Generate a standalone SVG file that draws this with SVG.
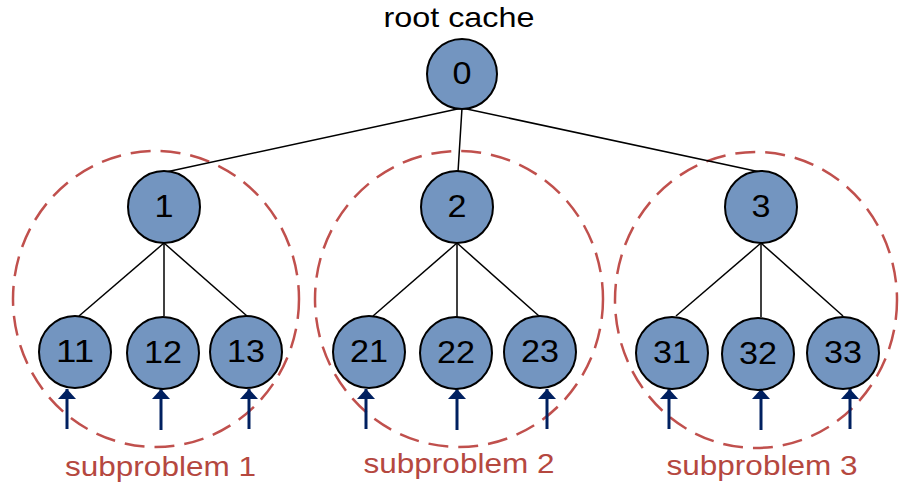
<svg xmlns="http://www.w3.org/2000/svg" width="899" height="486" viewBox="0 0 899 486">
  <style>
    .node circle { fill: #7395C0; stroke: #000; stroke-width: 2; }
    .node text { font-family: "Liberation Sans", Arial, sans-serif; font-size: 31px; fill: #000; text-anchor: middle; }
    .edge { stroke: #000; stroke-width: 1.5; fill: none; }
    .group { fill: none; stroke: #C0504D; stroke-width: 2.5; stroke-dasharray: 20 10; }
    .glabel { font-family: "Liberation Sans", Arial, sans-serif; font-size: 27.5px; fill: #B5483F; text-anchor: middle; }
    .title { font-family: "Liberation Sans", Arial, sans-serif; font-size: 28.5px; fill: #000; text-anchor: middle; }
    .req { stroke: #002060; stroke-width: 3; fill: none; }
  </style>
  <defs>
    <marker id="head" viewBox="0 0 10 18" refX="10" refY="9" markerWidth="10" markerHeight="18" markerUnits="userSpaceOnUse" orient="auto">
      <path d="M0,0 L10,9 L0,18 Z" fill="#002060"/>
    </marker>
  </defs>

  <text class="title" x="459" y="27" textLength="151" lengthAdjust="spacingAndGlyphs">root cache</text>

  <!-- subproblem boundaries -->
  <g id="subproblems">
    <ellipse class="group" cx="156" cy="299" rx="143" ry="148"/>
    <ellipse class="group" cx="459" cy="299" rx="144" ry="148"/>
    <ellipse class="group" cx="756" cy="300" rx="141" ry="148"/>
    <text class="glabel" x="160.5" y="476" textLength="191" lengthAdjust="spacingAndGlyphs">subproblem 1</text>
    <text class="glabel" x="459" y="473" textLength="191" lengthAdjust="spacingAndGlyphs">subproblem 2</text>
    <text class="glabel" x="762" y="475" textLength="191" lengthAdjust="spacingAndGlyphs">subproblem 3</text>
  </g>

  <!-- tree edges -->
  <g id="connectors">
    <line class="edge" x1="462" y1="108" x2="166" y2="172"/>
    <line class="edge" x1="462" y1="108" x2="458" y2="172"/>
    <line class="edge" x1="462" y1="108" x2="760" y2="172"/>
    <line class="edge" x1="164" y1="243" x2="79" y2="316"/>
    <line class="edge" x1="164" y1="243" x2="164" y2="316"/>
    <line class="edge" x1="164" y1="243" x2="247" y2="316"/>
    <line class="edge" x1="457" y1="243" x2="373" y2="316"/>
    <line class="edge" x1="457" y1="243" x2="457" y2="317"/>
    <line class="edge" x1="457" y1="243" x2="539" y2="316"/>
    <line class="edge" x1="761" y1="243" x2="676" y2="316"/>
    <line class="edge" x1="761" y1="243" x2="761" y2="317"/>
    <line class="edge" x1="761" y1="243" x2="843" y2="316"/>
  </g>

  <!-- incoming requests -->
  <g id="requests">
    <line class="req" x1="67" y1="429" x2="67" y2="389" marker-end="url(#head)"/>
    <line class="req" x1="161" y1="430" x2="161" y2="389" marker-end="url(#head)"/>
    <line class="req" x1="249" y1="429" x2="249" y2="389" marker-end="url(#head)"/>
    <line class="req" x1="366" y1="429" x2="366" y2="389" marker-end="url(#head)"/>
    <line class="req" x1="457" y1="430" x2="457" y2="389" marker-end="url(#head)"/>
    <line class="req" x1="547" y1="429" x2="547" y2="389" marker-end="url(#head)"/>
    <line class="req" x1="669" y1="429" x2="669" y2="389" marker-end="url(#head)"/>
    <line class="req" x1="761" y1="430" x2="761" y2="389" marker-end="url(#head)"/>
    <line class="req" x1="850" y1="429" x2="850" y2="389" marker-end="url(#head)"/>
  </g>

  <g id="n0" class="node"><circle cx="462" cy="74" r="35"/><text x="462" y="84" textLength="19" lengthAdjust="spacingAndGlyphs">0</text></g>
  <g id="n1" class="node"><circle cx="164" cy="207" r="36"/><text x="164" y="217" textLength="19" lengthAdjust="spacingAndGlyphs">1</text></g>
  <g id="n2" class="node"><circle cx="457" cy="207" r="36"/><text x="457" y="217" textLength="19" lengthAdjust="spacingAndGlyphs">2</text></g>
  <g id="n3" class="node"><circle cx="761" cy="207" r="36"/><text x="761" y="217" textLength="19" lengthAdjust="spacingAndGlyphs">3</text></g>
  <g id="n11" class="node"><circle cx="75" cy="352" r="36"/><text x="75" y="362" textLength="38" lengthAdjust="spacingAndGlyphs">11</text></g>
  <g id="n12" class="node"><circle cx="163" cy="353" r="36"/><text x="163" y="363" textLength="38" lengthAdjust="spacingAndGlyphs">12</text></g>
  <g id="n13" class="node"><circle cx="246" cy="352" r="36"/><text x="246" y="362" textLength="38" lengthAdjust="spacingAndGlyphs">13</text></g>
  <g id="n21" class="node"><circle cx="369" cy="352" r="36"/><text x="369" y="362" textLength="38" lengthAdjust="spacingAndGlyphs">21</text></g>
  <g id="n22" class="node"><circle cx="456" cy="353" r="36"/><text x="456" y="363" textLength="38" lengthAdjust="spacingAndGlyphs">22</text></g>
  <g id="n23" class="node"><circle cx="540" cy="352" r="36"/><text x="540" y="362" textLength="38" lengthAdjust="spacingAndGlyphs">23</text></g>
  <g id="n31" class="node"><circle cx="672" cy="353" r="36"/><text x="672" y="363" textLength="38" lengthAdjust="spacingAndGlyphs">31</text></g>
  <g id="n32" class="node"><circle cx="758" cy="354" r="36"/><text x="758" y="364" textLength="38" lengthAdjust="spacingAndGlyphs">32</text></g>
  <g id="n33" class="node"><circle cx="843" cy="353" r="36"/><text x="843" y="363" textLength="38" lengthAdjust="spacingAndGlyphs">33</text></g>
</svg>
